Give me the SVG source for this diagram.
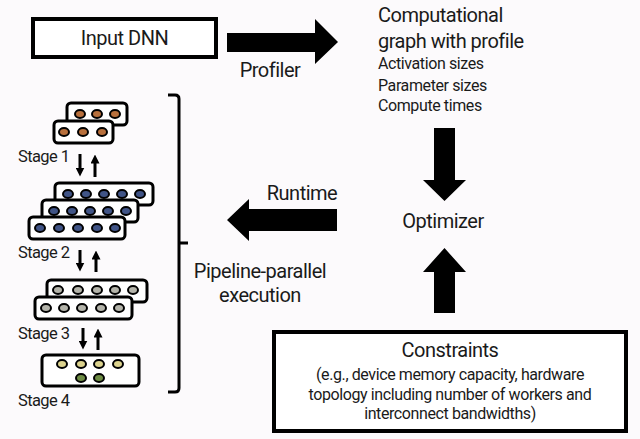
<svg xmlns="http://www.w3.org/2000/svg" width="640" height="439" viewBox="0 0 640 439">
<style>
text{font-family:Roboto,"Liberation Sans",sans-serif;fill:#1a1a1a}
.big{font-size:20px;letter-spacing:-0.5px}
.mid{font-size:16px;letter-spacing:-0.4px}
.stg{font-size:16.5px;letter-spacing:-0.6px}
.box{fill:#fff;stroke:#000;stroke-width:4}
.sb{fill:#fff;stroke:#000;stroke-width:3}
.d{stroke:#000;stroke-width:2}
.o{fill:#b8703c}.b{fill:#405486}.g{fill:#b4b4aa}.y{fill:#dcd38e}.gr{fill:#6e8c44}
.thin{stroke:#000;stroke-width:3;fill:none}
</style>
<defs>
<marker id="ah" viewBox="0 0 10 10" refX="5" refY="5" markerWidth="3" markerHeight="3" orient="auto-start-reverse" markerUnits="strokeWidth">
<path d="M0,0L10,5L0,10z" fill="#000"/>
</marker>
</defs>
<rect width="640" height="439" fill="#fcfafc"/>

<g id="input-dnn">
<rect class="box" x="33" y="19" width="183" height="38"/>
<text class="big" x="124.5" y="45" text-anchor="middle">Input DNN</text>
</g>

<g id="graph-profile">
<text class="big" x="378" y="22">Computational</text>
<text class="big" x="378" y="48">graph with profile</text>
<text class="mid" x="378" y="69">Activation sizes</text>
<text class="mid" x="378" y="91">Parameter sizes</text>
<text class="mid" x="378" y="111">Compute times</text>
</g>

<g id="optimizer">
<text class="big" x="443" y="228" text-anchor="middle">Optimizer</text>
</g>

<g id="constraints">
<rect class="box" x="274" y="332" width="352" height="99"/>
<text class="big" x="450" y="357" text-anchor="middle">Constraints</text>
<text class="mid" x="450" y="380" text-anchor="middle">(e.g., device memory capacity, hardware</text>
<text class="mid" x="450" y="400" text-anchor="middle">topology including number of workers and</text>
<text class="mid" x="450" y="419" text-anchor="middle">interconnect bandwidths)</text>
</g>

<g id="pipeline-label">
<text class="big" x="260" y="278" text-anchor="middle">Pipeline-parallel</text>
<text class="big" x="260" y="302" text-anchor="middle">execution</text>
</g>

<g id="stage1">
<rect class="sb" x="67" y="103" width="60" height="22" rx="4"/>
<ellipse class="d o" cx="80" cy="114" rx="5" ry="4"/>
<ellipse class="d o" cx="97" cy="114" rx="5" ry="4"/>
<ellipse class="d o" cx="115" cy="114" rx="5" ry="4"/>
<rect class="sb" x="54" y="121" width="59" height="22" rx="4"/>
<ellipse class="d o" cx="64" cy="132" rx="5" ry="4"/>
<ellipse class="d o" cx="83" cy="132" rx="5" ry="4"/>
<ellipse class="d o" cx="102" cy="132" rx="5" ry="4"/>
<text class="stg" x="18" y="162">Stage 1</text>
</g>

<g id="stage2">
<rect class="sb" x="55" y="183" width="98" height="22" rx="4"/>
<ellipse class="d b" cx="68" cy="194" rx="5" ry="4"/>
<ellipse class="d b" cx="86" cy="194" rx="5" ry="4"/>
<ellipse class="d b" cx="104" cy="194" rx="5" ry="4"/>
<ellipse class="d b" cx="122" cy="194" rx="5" ry="4"/>
<ellipse class="d b" cx="140" cy="194" rx="5" ry="4"/>
<rect class="sb" x="42" y="200" width="96" height="22" rx="4"/>
<ellipse class="d b" cx="54" cy="211" rx="5" ry="4"/>
<ellipse class="d b" cx="72" cy="211" rx="5" ry="4"/>
<ellipse class="d b" cx="90" cy="211" rx="5" ry="4"/>
<ellipse class="d b" cx="108" cy="211" rx="5" ry="4"/>
<ellipse class="d b" cx="126" cy="211" rx="5" ry="4"/>
<rect class="sb" x="29" y="217" width="96" height="22" rx="4"/>
<ellipse class="d b" cx="40" cy="228" rx="5" ry="4"/>
<ellipse class="d b" cx="59" cy="228" rx="5" ry="4"/>
<ellipse class="d b" cx="78" cy="228" rx="5" ry="4"/>
<ellipse class="d b" cx="97" cy="228" rx="5" ry="4"/>
<ellipse class="d b" cx="115" cy="228" rx="5" ry="4"/>
<text class="stg" x="18" y="258">Stage 2</text>
</g>

<g id="stage3">
<rect class="sb" x="47" y="280" width="100" height="22" rx="4"/>
<ellipse class="d g" cx="58" cy="290" rx="5" ry="4"/>
<ellipse class="d g" cx="78" cy="290" rx="5" ry="4"/>
<ellipse class="d g" cx="97" cy="290" rx="5" ry="4"/>
<ellipse class="d g" cx="115" cy="290" rx="5" ry="4"/>
<ellipse class="d g" cx="133" cy="290" rx="5" ry="4"/>
<rect class="sb" x="35" y="297" width="97" height="22" rx="4"/>
<ellipse class="d g" cx="46" cy="308" rx="5" ry="4"/>
<ellipse class="d g" cx="64" cy="308" rx="5" ry="4"/>
<ellipse class="d g" cx="82" cy="308" rx="5" ry="4"/>
<ellipse class="d g" cx="101" cy="308" rx="5" ry="4"/>
<ellipse class="d g" cx="119" cy="308" rx="5" ry="4"/>
<text class="stg" x="18" y="339">Stage 3</text>
</g>

<g id="stage4">
<rect class="sb" x="42" y="355" width="97" height="31" rx="4"/>
<ellipse class="d y" cx="62" cy="364" rx="5" ry="4"/>
<ellipse class="d y" cx="81" cy="364" rx="5" ry="4"/>
<ellipse class="d y" cx="99" cy="364" rx="5" ry="4"/>
<ellipse class="d y" cx="118" cy="364" rx="5" ry="4"/>
<ellipse class="d gr" cx="81" cy="378" rx="5" ry="4"/>
<ellipse class="d gr" cx="99" cy="378" rx="5" ry="4"/>
<text class="stg" x="18" y="406">Stage 4</text>
</g>

<g id="connectors">
<!-- Profiler arrow -->
<path d="M227,33H315V19L338,42L315,64V52H227Z" fill="#000"/>
<text class="big" x="270" y="77" text-anchor="middle">Profiler</text>
<!-- down arrow to optimizer -->
<path d="M434,128H455V180H466L444.5,201L423,180H434Z" fill="#000"/>
<!-- up arrow from constraints -->
<path d="M434,313H455V272H466L444.5,248L423,272H434Z" fill="#000"/>
<!-- runtime arrow -->
<path d="M337,209H249V199L227,220L249,241V231H337Z" fill="#000"/>
<text class="big" x="302" y="200" text-anchor="middle">Runtime</text>
<!-- bracket -->
<path d="M168,95H175Q179,95 179,99V388Q179,392 175,392H168M179,243H188" fill="none" stroke="#000" stroke-width="3"/>
<!-- stage arrows -->
<line class="thin" x1="80" y1="154" x2="80" y2="172" marker-end="url(#ah)"/>
<line class="thin" x1="95" y1="177" x2="95" y2="159" marker-end="url(#ah)"/>
<line class="thin" x1="80" y1="250" x2="80" y2="267" marker-end="url(#ah)"/>
<line class="thin" x1="96" y1="272" x2="96" y2="255" marker-end="url(#ah)"/>
<line class="thin" x1="83" y1="328" x2="83" y2="345" marker-end="url(#ah)"/>
<line class="thin" x1="98" y1="350" x2="98" y2="333" marker-end="url(#ah)"/>
</g>
</svg>
